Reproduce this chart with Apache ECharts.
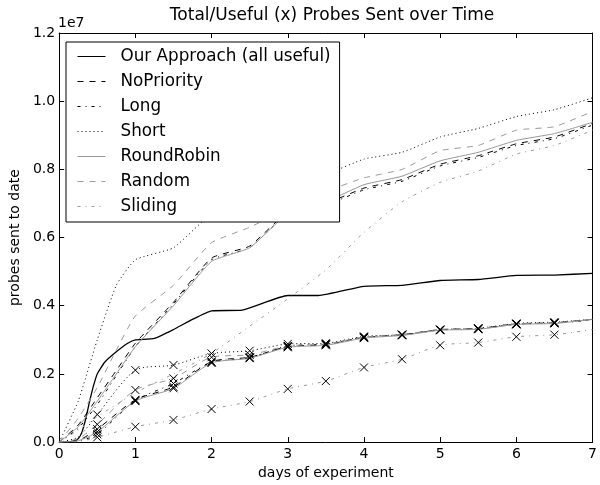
<!DOCTYPE html>
<html>
<head>
<meta charset="utf-8">
<script src="https://cdn.jsdelivr.net/npm/echarts@6/dist/echarts.min.js"></script>
<style>html,body{margin:0;padding:0;background:#fff}#c{width:600px;height:485px}</style>
</head>
<body>
<div id="c"></div>
<script>
// values in units of 1e6 probes
const ourDays  = [0, 0.15, 0.25, 0.3, 0.35, 0.4, 0.45, 0.5, 0.6, 0.75, 0.9, 1.0, 1.25, 1.5, 1.75, 2.0, 2.4, 3.0, 3.4, 4.0, 4.5, 5.0, 5.5, 6.0, 6.5, 7.0];
const ourApproach = [0, 0.01, 0.1, 0.3, 0.7, 1.2, 1.65, 2.0, 2.35, 2.65, 2.9, 3.0, 3.04, 3.3, 3.6, 3.85, 3.87, 4.3, 4.3, 4.57, 4.6, 4.74, 4.77, 4.89, 4.9, 4.95];

const totalDays = [0, 0.25, 0.5, 0.75, 1, 1.5, 2, 2.5, 3, 3.5, 4, 4.5, 5, 5.5, 6, 6.5, 7];
const noPriorityTotal = [0, 0.5, 1.3, 2.1, 2.9, 4.1, 5.4, 5.75, 6.75, 7.0, 7.45, 7.7, 8.15, 8.4, 8.75, 8.95, 9.35];
const longTotal       = [0, 0.4, 1.1, 1.95, 2.8, 4.05, 5.35, 5.7, 6.7, 6.95, 7.4, 7.65, 8.1, 8.35, 8.7, 8.9, 9.3];
const shortTotal      = [0, 1.2, 3.0, 4.6, 5.35, 5.7, 6.7, 7.1, 7.5, 7.85, 8.3, 8.5, 8.95, 9.2, 9.55, 9.75, 10.1];
const roundRobinTotal = [0, 0.45, 1.2, 2.0, 2.8, 4.0, 5.3, 5.7, 6.7, 7.05, 7.55, 7.8, 8.25, 8.5, 8.85, 9.05, 9.38];
const randomTotal     = [0, 0.7, 1.6, 2.7, 3.7, 4.6, 5.85, 6.3, 6.85, 7.35, 7.75, 8.0, 8.55, 8.7, 9.15, 9.25, 9.7];
const slidingTotal    = [0, 0.35, 0.75, 1.1, 1.45, 2.0, 2.6, 3.4, 4.2, 5.05, 6.15, 7.05, 7.62, 7.95, 8.45, 8.7, 9.15];

const usefulDays = [0, 0.25, 0.5, 1, 1.5, 2, 2.5, 3, 3.5, 4, 4.5, 5, 5.5, 6, 6.5, 7];
const noPriorityUseful = [0, 0.05, 0.38, 1.24, 1.62, 2.36, 2.49, 2.8, 2.86, 3.07, 3.15, 3.3, 3.33, 3.47, 3.5, 3.6];
const longUseful       = [0, 0.03, 0.23, 1.22, 1.72, 2.34, 2.47, 2.82, 2.87, 3.08, 3.14, 3.29, 3.32, 3.46, 3.49, 3.58];
const shortUseful      = [0, 0.15, 0.81, 2.11, 2.26, 2.6, 2.68, 2.88, 2.9, 3.1, 3.15, 3.3, 3.34, 3.48, 3.52, 3.6];
const roundRobinUseful = [0, 0.04, 0.3, 1.2, 1.58, 2.32, 2.46, 2.78, 2.84, 3.05, 3.13, 3.28, 3.31, 3.45, 3.48, 3.6];
const randomUseful     = [0, 0.1, 0.52, 1.53, 1.87, 2.49, 2.56, 2.82, 2.88, 3.08, 3.15, 3.29, 3.33, 3.46, 3.5, 3.6];
const slidingUseful    = [0, 0.02, 0.14, 0.45, 0.65, 0.97, 1.19, 1.56, 1.79, 2.19, 2.43, 2.84, 2.92, 3.09, 3.15, 3.3];

const xTicks = [0, 1, 2, 3, 4, 5, 6, 7];
const legendNames = ['Our Approach (all useful)', 'NoPriority', 'Long', 'Short', 'RoundRobin', 'Random', 'Sliding'];

const FONT = 'DejaVu Sans';
const GRAY = '#999999';
const XMARK = 'path://M0,0L10,10M10,0L0,10';

const styles = {
  solidBlack: {color: '#000', type: 'solid'},
  dashBlack: {color: '#000', type: [6, 6]},
  dashDotBlack: {color: '#000', type: [3, 5, 1, 5]},
  dotBlack: {color: '#000', type: [1, 3]},
  solidGray: {color: GRAY, type: 'solid'},
  dashGray: {color: GRAY, type: [6, 6]},
  dashDotGray: {color: GRAY, type: [3, 5, 1, 5]}
};

function pairs(xs, ys) { return xs.map((x, i) => [x, ys[i]]); }
function marked(xs, ys) {
  return xs.map((x, i) => ({value: [x, ys[i]], symbol: (x >= 0.5 && x <= 6.5) ? XMARK : 'none'}));
}
function totalSeries(name, xs, ys, st, width, smooth) {
  return {
    name: name, type: 'line', data: pairs(xs, ys), symbol: 'none',
    smooth: smooth,
    lineStyle: {color: st.color, type: st.type, width: width || 1},
    itemStyle: {color: st.color}, emphasis: {disabled: true}, z: 3
  };
}
function usefulSeries(name, ys, st) {
  return {
    name: name, type: 'line', data: marked(usefulDays, ys),
    symbolSize: 8, showAllSymbol: true, smooth: 0.25,
    lineStyle: {color: st.color, type: st.type, width: 1},
    itemStyle: {color: '#000', borderColor: '#000', borderWidth: 1},
    emphasis: {disabled: true}, z: 4
  };
}

const series = [
  totalSeries(legendNames[0], ourDays, ourApproach, styles.solidBlack, 1.3, 0.15),
  totalSeries(legendNames[1], totalDays, noPriorityTotal, styles.dashBlack, 1, 0.15),
  totalSeries(legendNames[2], totalDays, longTotal, styles.dashDotBlack, 1, 0.15),
  totalSeries(legendNames[3], totalDays, shortTotal, styles.dotBlack, 1, 0.15),
  totalSeries(legendNames[4], totalDays, roundRobinTotal, styles.solidGray, 1, 0.15),
  totalSeries(legendNames[5], totalDays, randomTotal, styles.dashGray, 1, 0.15),
  totalSeries(legendNames[6], totalDays, slidingTotal, styles.dashDotGray, 1, 0.15),
  usefulSeries('NoPriority useful', noPriorityUseful, styles.dashBlack),
  usefulSeries('Long useful', longUseful, styles.dashDotBlack),
  usefulSeries('Short useful', shortUseful, styles.dotBlack),
  usefulSeries('RoundRobin useful', roundRobinUseful, styles.solidGray),
  usefulSeries('Random useful', randomUseful, styles.dashGray),
  usefulSeries('Sliding useful', slidingUseful, styles.dashDotGray)
];

const axisCommon = {
  type: 'value',
  axisLine: {show: true, onZero: false, lineStyle: {color: '#000', width: 1}},
  axisTick: {show: true, inside: true, length: 5, lineStyle: {color: '#000'}},
  splitLine: {show: false}
};

const chart = echarts.init(document.getElementById('c'), null, {renderer: 'canvas'});
chart.setOption({
  animation: false,
  backgroundColor: '#fff',
  title: {
    text: 'Total/Useful (x) Probes Sent over Time',
    left: 327, top: 2, textAlign: 'center',
    textStyle: {fontFamily: FONT, fontSize: 17, fontWeight: 'normal', color: '#000'}
  },
  grid: {left: 58, right: 4, top: 33, bottom: 37, containLabel: false},
  xAxis: [
    Object.assign({}, axisCommon, {
      position: 'bottom', min: 0, max: 7, interval: 1,
      name: 'days of experiment', nameLocation: 'middle', nameGap: 21,
      nameTextStyle: {fontFamily: FONT, fontSize: 14, color: '#000'},
      axisLabel: {fontFamily: FONT, fontSize: 14, color: '#000', margin: 5,
        formatter: v => xTicks.indexOf(v) >= 0 ? String(v) : ''}
    }),
    Object.assign({}, axisCommon, {position: 'top', min: 0, max: 7, interval: 1, axisLabel: {show: false}})
  ],
  yAxis: [
    Object.assign({}, axisCommon, {
      position: 'left', min: 0, max: 12, interval: 2,
      name: 'probes sent to date', nameLocation: 'middle', nameGap: 35,
      nameTextStyle: {fontFamily: FONT, fontSize: 14, color: '#000'},
      axisLabel: {fontFamily: FONT, fontSize: 14, color: '#000', margin: 4,
        formatter: v => (v / 10).toFixed(1)}
    }),
    Object.assign({}, axisCommon, {position: 'right', min: 0, max: 12, interval: 2, axisLabel: {show: false}})
  ],
  legend: {
    data: legendNames, orient: 'vertical', left: 66, top: 42,
    itemWidth: 28, itemHeight: 14, itemGap: 8,
    padding: [6, 9, 7, 11],
    borderColor: '#000', borderWidth: 1, borderRadius: 0, backgroundColor: '#fff',
    selectedMode: false, z: 10,
    itemStyle: {color: 'rgba(0,0,0,0)', borderColor: 'rgba(0,0,0,0)', borderWidth: 0},
    lineStyle: {width: 1},
    textStyle: {fontFamily: FONT, fontSize: 16.8, color: '#000', padding: [0, 0, 0, 10]}
  },
  graphic: [{
    type: 'text', left: 58, top: 16, z: 10,
    style: {text: '1e7', font: '14px "DejaVu Sans"', fill: '#000'}
  }],
  series: series
});
</script>
</body>
</html>
